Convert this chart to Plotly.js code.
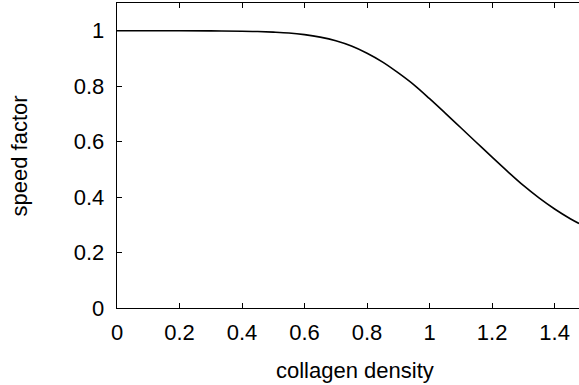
<!DOCTYPE html>
<html>
<head>
<meta charset="utf-8">
<script src="https://cdn.plot.ly/plotly-3.0.1.min.js"></script>
<style>html,body{margin:0;padding:0;background:#fff;}#chart{width:579px;height:385px;}</style>
</head>
<body>
<div id="chart"></div>
<script>
var collagenDensity = [0, 0.1, 0.2, 0.3, 0.4, 0.45, 0.5, 0.55, 0.6, 0.65, 0.7, 0.75, 0.8, 0.85, 0.9, 0.95, 1.0, 1.05, 1.1, 1.15, 1.2, 1.25, 1.3, 1.35, 1.4, 1.45, 1.478];
var speedFactor = [1.0, 1.0, 1.0, 0.9995, 0.998, 0.997, 0.995, 0.992, 0.986, 0.977, 0.964, 0.945, 0.919, 0.887, 0.848, 0.805, 0.755, 0.703, 0.650, 0.597, 0.544, 0.492, 0.442, 0.397, 0.357, 0.322, 0.305];
var xTicks = [0, 0.2, 0.4, 0.6, 0.8, 1, 1.2, 1.4];
var xTickLabels = ['0', '0.2', '0.4', '0.6', '0.8', '1', '1.2', '1.4'];
var yTicks = [0, 0.2, 0.4, 0.6, 0.8, 1];
var yTickLabels = ['0', '0.2', '0.4', '0.6', '0.8', '1'];
var xTitle = 'collagen density';
var yTitle = 'speed factor';

var trace = {
  x: collagenDensity, y: speedFactor, type: 'scatter', mode: 'lines',
  line: {color: '#000', width: 1.6, shape: 'spline', smoothing: 1}, hoverinfo: 'none'
};
var fontFam = 'Liberation Sans, Arial, sans-serif';
var fs = 22;
var layout = {
  width: 579, height: 385,
  margin: {l: 117, r: 0, t: 3, b: 77},
  paper_bgcolor: '#fff', plot_bgcolor: '#fff',
  showlegend: false,
  font: {family: fontFam, size: fs, color: '#000'},
  xaxis: {
    range: [0, 1.478], tickvals: xTicks, ticktext: xTickLabels,
    ticks: 'inside', ticklen: 5, tickwidth: 1, tickcolor: '#000',
    showline: true, linecolor: '#000', linewidth: 1.3, mirror: 'ticks',
    showgrid: false, zeroline: false, ticklabelstandoff: 4,
    tickfont: {family: fontFam, size: fs, color: '#000'}
  },
  yaxis: {
    range: [0, 1.1], tickvals: yTicks, ticktext: yTickLabels,
    ticks: 'inside', ticklen: 5, tickwidth: 1, tickcolor: '#000',
    showline: true, linecolor: '#000', linewidth: 1.3, mirror: false,
    showgrid: false, zeroline: false, ticklabelstandoff: 7,
    tickfont: {family: fontFam, size: fs, color: '#000'}
  },
  annotations: [
    {text: xTitle, xref: 'paper', yref: 'paper', x: 0.515, y: -0.205, xanchor: 'center', yanchor: 'middle', showarrow: false, font: {family: fontFam, size: fs, color: '#000'}},
    {text: yTitle, xref: 'paper', yref: 'paper', x: -0.21, y: 0.5, xanchor: 'center', yanchor: 'middle', textangle: -90, showarrow: false, font: {family: fontFam, size: fs, color: '#000'}}
  ]
};
Plotly.newPlot('chart', [trace], layout, {staticPlot: true, displayModeBar: false});
</script>
</body>
</html>
